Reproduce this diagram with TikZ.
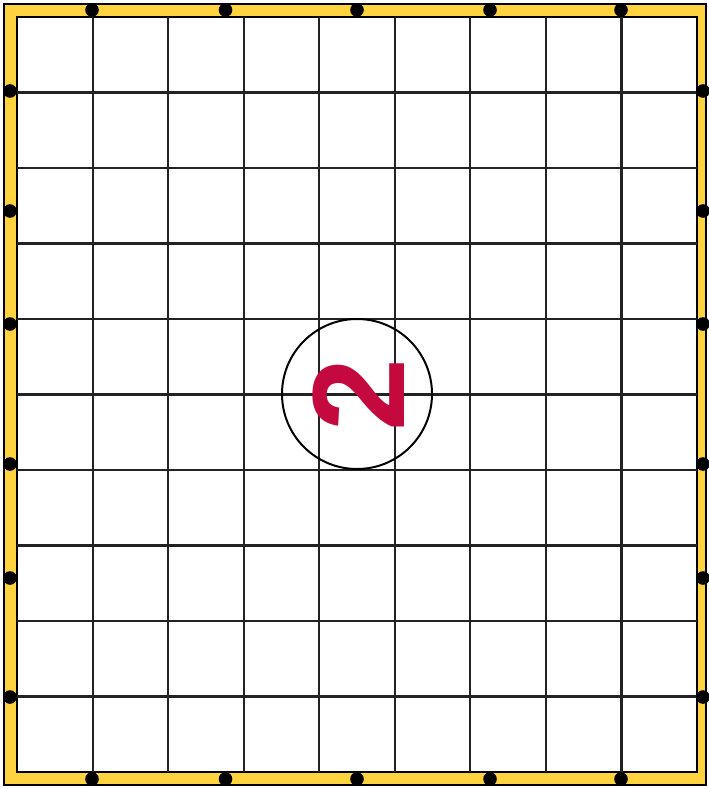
\documentclass[tikz,border=0pt]{standalone}
\usepackage{fontspec}
\newfontfamily\digitfont{Liberation Sans}
\usepackage{tikz}
\usetikzlibrary{positioning}
\definecolor{mYellow}{HTML}{FFD23F}
\definecolor{mRed}{HTML}{C4093F}
\definecolor{mGrid}{HTML}{222222}

\begin{document}
\begin{tikzpicture}[x=0.03cm, y=-0.03cm,
    gridline/.style={mGrid, line width=1.8pt},
    pin/.style={fill=black}]
    \useasboundingbox (0,0) rectangle (709,789);
    % frame
    \filldraw[fill=mYellow, draw=black, line width=2.4pt] (4,4) rectangle (706,785);
    \filldraw[fill=white, draw=black, line width=1.8pt] (17,17) rectangle (697,772);
    % grid
    \foreach \i in {1,...,8}
      \draw[gridline] ({17+75.56*\i},17) -- ({17+75.56*\i},772);
    \foreach \j in {1,...,9}
      \draw[gridline] (17,{17+75.5*\j}) -- (697,{17+75.5*\j});
    % pins on the frame
    \foreach \x in {92,225.5,357,490,621} {
      \fill[pin] (\x,10) circle[radius=6.8];
      \fill[pin] (\x,779) circle[radius=6.8];
    }
    \foreach \y in {91,211,324,464,578,697} {
      \fill[pin] (10,\y) circle[radius=6.8];
      \fill[pin] (703,\y) circle[radius=6.8];
    }
    % marker
    \node[draw=black, line width=1.7pt, circle, minimum size=4.5cm, inner sep=0pt] (mark) at (357,394) {};
    \node[mRed, rotate=90, inner sep=0pt] (digit) at (359,395) {\digitfont\bfseries\fontsize{112}{112}\selectfont 2};
\end{tikzpicture}
\end{document}
